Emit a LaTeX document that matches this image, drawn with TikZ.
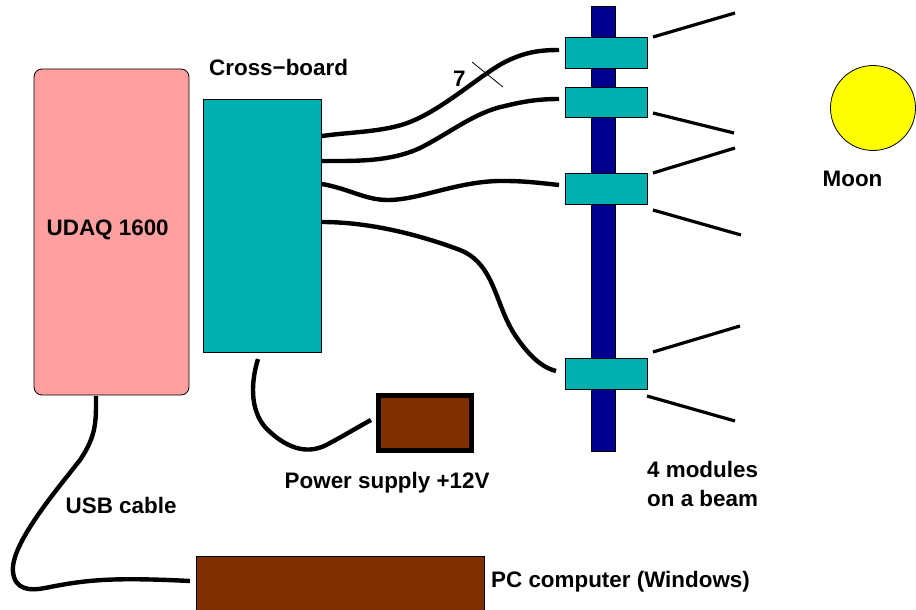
\documentclass[tikz,border=0pt]{standalone}
\usepackage{fontspec}
\setmainfont{Liberation Sans}
\definecolor{teal0}{HTML}{00B0B0}
\definecolor{pink0}{HTML}{FF9F9F}
\definecolor{brown0}{HTML}{7F2F00}
\definecolor{navy0}{HTML}{00008F}
\definecolor{moon0}{HTML}{FFFF00}
\tikzset{
  box/.style={draw=black,line width=0.8pt,minimum width=0pt,minimum height=0pt,inner sep=0pt,outer sep=0pt},
  cable/.style={draw=black,line width=4.4pt},
  antenna/.style={draw=black,line width=3.2pt},
  lbl/.style={font=\fontsize{22.4}{24}\selectfont\bfseries,inner sep=0pt,anchor=base west},
  module/.style={box,fill=teal0,minimum width=82pt,minimum height=31pt},
}
\begin{document}
\begin{tikzpicture}[x=1pt,y=-1pt]
\useasboundingbox (0,0) rectangle (916,610);
% boxes
\node[box,fill=pink0,rounded corners=8pt,minimum width=155pt,minimum height=326pt] (udaq) at (111.5,232) {};
\node[box,fill=teal0,minimum width=118pt,minimum height=253pt] (cross) at (262,225.5) {};
\node[box,fill=navy0,minimum width=24pt,minimum height=445pt] (beam) at (603,228.5) {};
\node[module] (m1) at (606,52.5) {};
\node[module,minimum height=30pt] (m2) at (606,102) {};
\node[module] (m3) at (606,188.5) {};
\node[module] (m4) at (606,373.5) {};
\node[draw=black,fill=brown0,line width=5pt,minimum width=93pt,minimum height=55pt,inner sep=0pt] (psu) at (424.5,423) {};
\node[box,fill=brown0,minimum width=288pt,minimum height=60pt] (pc) at (340,586) {};
\node[draw=black,fill=moon0,line width=0.8pt,circle,minimum size=85pt,inner sep=0pt] (moon) at (873,108) {};
% free cable ends
\coordinate (c1a) at (322,136); \coordinate (c1b) at (559,50);
\coordinate (c2a) at (322,161); \coordinate (c2b) at (559,99);
\coordinate (c3a) at (322,184); \coordinate (c3b) at (559,185);
\coordinate (c4a) at (322,222); \coordinate (c4b) at (556,371);
\coordinate (usba) at (96,396); \coordinate (usbb) at (190,581);
\coordinate (pwa) at (258,359); \coordinate (pwb) at (371,420);
% cables
\draw[cable] (c1a) .. controls (350,132) and (385,132) .. (410,122)
  .. controls (445,108) and (480,75) .. (505,62)
  .. controls (525,52) and (540,50) .. (c1b);
\draw[cable] (c2a) .. controls (355,161) and (390,162) .. (420,148)
  .. controls (450,133) and (475,112) .. (505,106)
  .. controls (525,101) and (540,99) .. (c2b);
\draw[cable] (c3a) .. controls (350,189) and (365,200) .. (388,200)
  .. controls (420,200) and (460,180) .. (505,181)
  .. controls (525,181) and (540,183) .. (c3b);
\draw[cable] (c4a) .. controls (370,222) and (420,235) .. (460,250)
  .. controls (495,264) and (495,305) .. (515,335)
  .. controls (527,353) and (540,367) .. (c4b);
\draw[cable] (usba) .. controls (96,420) and (97,435) .. (80,460)
  .. controls (55,492) and (10,545) .. (13,572)
  .. controls (15,590) and (30,591) .. (45,588)
  .. controls (85,580) and (110,577) .. (usbb);
\draw[cable] (pwa) .. controls (250,385) and (250,415) .. (270,432)
  .. controls (290,450) and (310,455) .. (330,443)
  .. controls (345,435) and (358,427) .. (pwb);
% antenna lines
\coordinate (a1a) at (653,37); \coordinate (a1b) at (735,13);
\coordinate (a2a) at (653,113); \coordinate (a2b) at (734,133);
\coordinate (a3a) at (653,173); \coordinate (a3b) at (735,148);
\coordinate (a4a) at (653,210); \coordinate (a4b) at (741,235);
\coordinate (a5a) at (653,352); \coordinate (a5b) at (740,326);
\coordinate (a6a) at (647,396); \coordinate (a6b) at (735,421);
\draw[antenna] (a1a) -- (a1b);
\draw[antenna] (a2a) -- (a2b);
\draw[antenna] (a3a) -- (a3b);
\draw[antenna] (a4a) -- (a4b);
\draw[antenna] (a5a) -- (a5b);
\draw[antenna] (a6a) -- (a6b);
% bus tick
\coordinate (t1) at (472,62); \coordinate (t2) at (503,87);
\draw[black,line width=0.8pt] (t1) -- (t2);
% labels
\node[lbl] (l1) at (46.5,235) {UDAQ 1600};
\node[lbl] (l2) at (209,75) {Cross−board};
\node[lbl] (l3) at (453,87) {7};
\node[lbl] (l4) at (822.5,186) {Moon};
\node[lbl] (l5) at (284.5,488) {Power supply +12V};
\node[lbl] (l6) at (65.5,513) {USB cable};
\node[lbl] (l7) at (491,587) {PC computer (Windows)};
\node[lbl] (l8) at (647,477) {4 modules};
\node[lbl] (l9) at (647,506) {on a beam};
\end{tikzpicture}
\end{document}
